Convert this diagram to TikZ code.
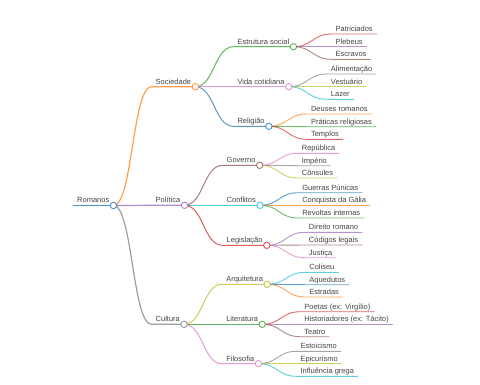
\documentclass[tikz,border=0pt]{standalone}
\usepackage{fontspec}
\setmainfont{Liberation Sans}
\usetikzlibrary{calc}
\definecolor{mmblue}{HTML}{1F77B4}
\definecolor{mmorange}{HTML}{FF7F0E}
\definecolor{mmgreen}{HTML}{2CA02C}
\definecolor{mmred}{HTML}{D62728}
\definecolor{mmpurple}{HTML}{9467BD}
\definecolor{mmbrown}{HTML}{8C564B}
\definecolor{mmpink}{HTML}{E377C2}
\definecolor{mmgrey}{HTML}{7F7F7F}
\definecolor{mmolive}{HTML}{BCBD22}
\definecolor{mmcyan}{HTML}{17BECF}
\definecolor{mmtext}{HTML}{444444}

\begin{document}
\begin{tikzpicture}[
  x=1pt, y=-1pt,
  lbl/.style={anchor=south west, inner xsep=4pt, inner ysep=2.4pt, text depth=0pt,
              font=\fontsize{7.5}{9}\selectfont, text=mmtext},
  dot/.style={circle, fill=white, line width=0.9pt, minimum size=6.4pt, inner sep=0pt,
              draw opacity=0.8},
  branch/.style={to path={let \p1=(\tikztostart), \p2=(\tikztotarget) in
                 .. controls ({(\x1+\x2)/2},\y1) and ({(\x1+\x2)/2},\y2) .. (\p2)}},
  w0/.style={line width=1.8pt, draw opacity=0.8},
  w1/.style={line width=1.2pt, draw opacity=0.75},
  w2/.style={line width=1pt, draw opacity=0.75},
  w3/.style={line width=0.9pt, draw opacity=0.7},
]
\useasboundingbox (0,0) rectangle (480,384);

% ---------------- root ---------------------------------------------
\node[lbl] (rom) at (73,205.5) {Romanos};
\draw[w0, mmblue] (rom.south west) -- (rom.south east);

% ---------------- main themes --------------------------------------
\foreach \k/\y/\t/\c in {soc/86.7/Sociedade/mmorange, pol/205.3/Política/mmpurple,
                         cul/324.3/Cultura/mmgrey}{
  \node[lbl] (\k) at ([xshift=38pt]rom.south east |- 0,\y) {\t};
  \draw[w1, \c] (rom.south east) to[branch] (\k.south west) -- (\k.south east);
}

% ---------------- sub-themes ---------------------------------------
\foreach \up/\k/\y/\t/\c in {soc/est/46.7/Estrutura social/mmgreen,
    soc/vid/86.7/Vida cotidiana/mmpink, soc/rel/126.3/Religião/mmblue,
    pol/gov/165.3/Governo/mmbrown, pol/con/205.3/Conflitos/mmcyan,
    pol/leg/245.3/Legislação/mmred, cul/arq/284.3/Arquitetura/mmolive,
    cul/lit/324.3/Literatura/mmgreen, cul/fil/363.7/Filosofia/mmpink}{
  \node[lbl] (\k) at ([xshift=38pt]\up.south east |- 0,\y) {\t};
  \draw[w2, \c] (\up.south east) to[branch] (\k.south west) -- (\k.south east);
}

% ---------------- leaves -------------------------------------------
\foreach \up/\k/\y/\t/\c in {
    est/est1/34.0/Patriciados/mmred, est/est2/46.7/Plebeus/mmpurple,
    est/est3/59.3/Escravos/mmbrown,
    vid/vid1/74.0/Alimentação/mmgrey, vid/vid2/86.7/Vestuário/mmolive,
    vid/vid3/99.3/Lazer/mmcyan,
    rel/rel1/114.0/Deuses romanos/mmorange, rel/rel2/126.7/Práticas religiosas/mmgreen,
    rel/rel3/139.3/Templos/mmred,
    gov/gov1/153.3/República/mmpink, gov/gov2/165.7/Império/mmgrey,
    gov/gov3/178.0/Cônsules/mmolive,
    con/con1/192.7/Guerras Púnicas/mmblue, con/con2/205.3/Conquista da Gália/mmorange,
    con/con3/218.0/Revoltas internas/mmgreen,
    leg/leg1/232.3/Direito romano/mmpurple, leg/leg2/245.0/Códigos legais/mmbrown,
    leg/leg3/257.7/Justiça/mmpink,
    arq/arq1/272.3/Coliseu/mmcyan, arq/arq2/284.7/Aquedutos/mmblue,
    arq/arq3/297.0/Estradas/mmorange,
    lit/lit1/311.7/Poetas (ex: Virgílio)/mmred,
    lit/lit2/324.3/Historiadores (ex: Tácito)/mmpurple,
    lit/lit3/336.7/Teatro/mmbrown,
    fil/fil1/351.3/Estoicismo/mmgrey, fil/fil2/363.7/Epicurismo/mmolive,
    fil/fil3/376.3/Influência grega/mmcyan}{
  \node[lbl] (\k) at ([xshift=38pt]\up.south east |- 0,\y) {\t};
  \draw[w3, \c] (\up.south east) to[branch] (\k.south west) -- (\k.south east);
}

% ---------------- junction dots ------------------------------------
\foreach \k/\c in {rom/mmblue, soc/mmorange, pol/mmpurple, cul/mmgrey,
    est/mmgreen, vid/mmpink, rel/mmblue, gov/mmbrown, con/mmcyan, leg/mmred,
    arq/mmolive, lit/mmgreen, fil/mmpink}
  \node[dot, draw=\c] (\k-o) at (\k.south east) {};

\end{tikzpicture}
\end{document}
